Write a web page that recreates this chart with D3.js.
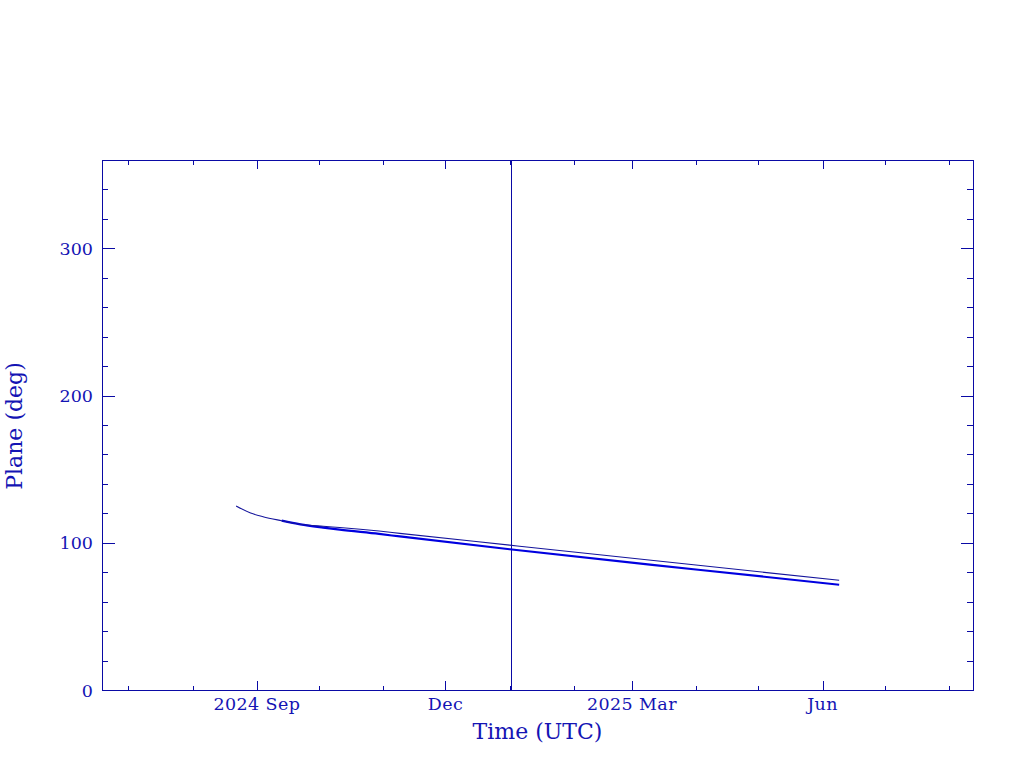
<!DOCTYPE html>
<html>
<head>
<meta charset="utf-8">
<script src="https://cdn.jsdelivr.net/npm/d3@7"></script>
<style>
  html, body { margin: 0; padding: 0; background: #ffffff; }
  svg { display: block; }
  text { font-family: "DejaVu Serif", "Liberation Serif", serif; fill: #1414b4; }
</style>
</head>
<body>
<svg id="chart" width="1024" height="768"></svg>
<script>
// ---- data ----
const thinDates  = ["2024-08-22", "2024-08-29", "2024-09-04", "2024-09-13", "2024-09-22", "2024-10-03",
                    "2024-10-11", "2024-10-30", "2024-11-09", "2025-01-01", "2025-04-02", "2025-06-09"];
const thinValues = [125.0, 120.2, 117.7, 115.0, 112.6, 111.2,
                    110.4, 108.0, 106.4, 98.4, 84.7, 74.5];
const thickDates  = ["2024-09-13", "2024-09-22", "2024-10-03", "2024-10-11", "2024-10-30",
                     "2024-11-09", "2025-01-01", "2025-04-02", "2025-06-09"];
const thickValues = [115.0, 112.5, 110.3, 108.9, 106.0, 104.3, 95.6, 81.7, 71.5];
const markerDate = "2025-01-01T17:00:00Z";
const xDomain = ["2024-06-18T07:00:00Z", "2025-08-12T14:00:00Z"];
const yDomain = [0, 360];
const xMajorTicks = ["2024-09-01", "2024-12-01", "2025-03-01", "2025-06-01"];
const xMajorLabels = ["2024 Sep", "Dec", "2025 Mar", "Jun"];
const yMajorTicks = [0, 100, 200, 300];
const xLabel = "Time (UTC)";
const yLabel = "Plane (deg)";

// ---- layout ----
const L = 102, R = 973, T = 160, B = 690;
const axisColor = "#0a0aa5";
const svg = d3.select("#chart");
const parse = s => new Date(s.length === 10 ? s + "T00:00:00Z" : s);

const x = d3.scaleUtc().domain(xDomain.map(parse)).range([L, R]);
const y = d3.scaleLinear().domain(yDomain).range([B, T]);

const minorMonths = d3.utcMonth.range(parse(xDomain[0]), parse(xDomain[1]));
const yMinor = d3.range(0, 361, 20);

const g = svg.append("g").attr("shape-rendering", "crispEdges");

// frame
g.append("rect").attr("x", L + 0.5).attr("y", T + 0.5)
  .attr("width", R - L).attr("height", B - T)
  .attr("fill", "none").attr("stroke", axisColor).attr("stroke-width", 1);

// x ticks (bottom & top, inward)
const xMajSet = new Set(xMajorTicks.map(d => parse(d).getTime()));
minorMonths.forEach(d => {
  const major = xMajSet.has(d.getTime());
  const len = major ? 9 : 4.5;
  const px = Math.round(x(d)) + 0.5;
  g.append("line").attr("x1", px).attr("x2", px).attr("y1", B).attr("y2", B - len)
    .attr("stroke", axisColor);
  g.append("line").attr("x1", px).attr("x2", px).attr("y1", T).attr("y2", T + len)
    .attr("stroke", axisColor);
});

// y ticks (left & right, inward)
yMinor.forEach(v => {
  if (v === 0 || v === 360) return;
  const major = v % 100 === 0;
  const len = major ? 12.5 : 6;
  const py = Math.round(y(v)) + 0.5;
  g.append("line").attr("x1", L).attr("x2", L + len).attr("y1", py).attr("y2", py)
    .attr("stroke", axisColor);
  g.append("line").attr("x1", R).attr("x2", R - len).attr("y1", py).attr("y2", py)
    .attr("stroke", axisColor);
});

// x tick labels
xMajorTicks.forEach((d, i) => {
  svg.append("text").attr("x", x(parse(d))).attr("y", 710)
    .attr("text-anchor", "middle").attr("font-size", 17.5)
    .attr("letter-spacing", 0.4)
    .text(xMajorLabels[i]);
});

// y tick labels
yMajorTicks.forEach(v => {
  svg.append("text").attr("x", 93).attr("y", y(v) + 6.5)
    .attr("text-anchor", "end").attr("font-size", 17.5)
    .text(v);
});

// axis titles
svg.append("text").attr("x", (L + R) / 2).attr("y", 739)
  .attr("text-anchor", "middle").attr("font-size", 22)
  .text(xLabel);
svg.append("text")
  .attr("transform", "translate(22," + 426 + ") rotate(-90)")
  .attr("text-anchor", "middle").attr("font-size", 22)
  .text(yLabel);

// vertical marker line
g.append("line")
  .attr("x1", Math.round(x(parse(markerDate))) + 0.5)
  .attr("x2", Math.round(x(parse(markerDate))) + 0.5)
  .attr("y1", T).attr("y2", B)
  .attr("stroke", axisColor).attr("stroke-width", 1);

// data lines
const line = d3.line().x(d => x(d[0])).y(d => y(d[1])).curve(d3.curveMonotoneX);
const thick = thickDates.map((d, i) => [parse(d), thickValues[i]]);
const thin = thinDates.map((d, i) => [parse(d), thinValues[i]]);

svg.append("path").datum(thick).attr("d", line)
  .attr("fill", "none").attr("stroke", "#0000e0").attr("stroke-width", 2.2);
svg.append("path").datum(thin).attr("d", line)
  .attr("fill", "none").attr("stroke", "#14149c").attr("stroke-width", 1.1);
</script>
</body>
</html>
